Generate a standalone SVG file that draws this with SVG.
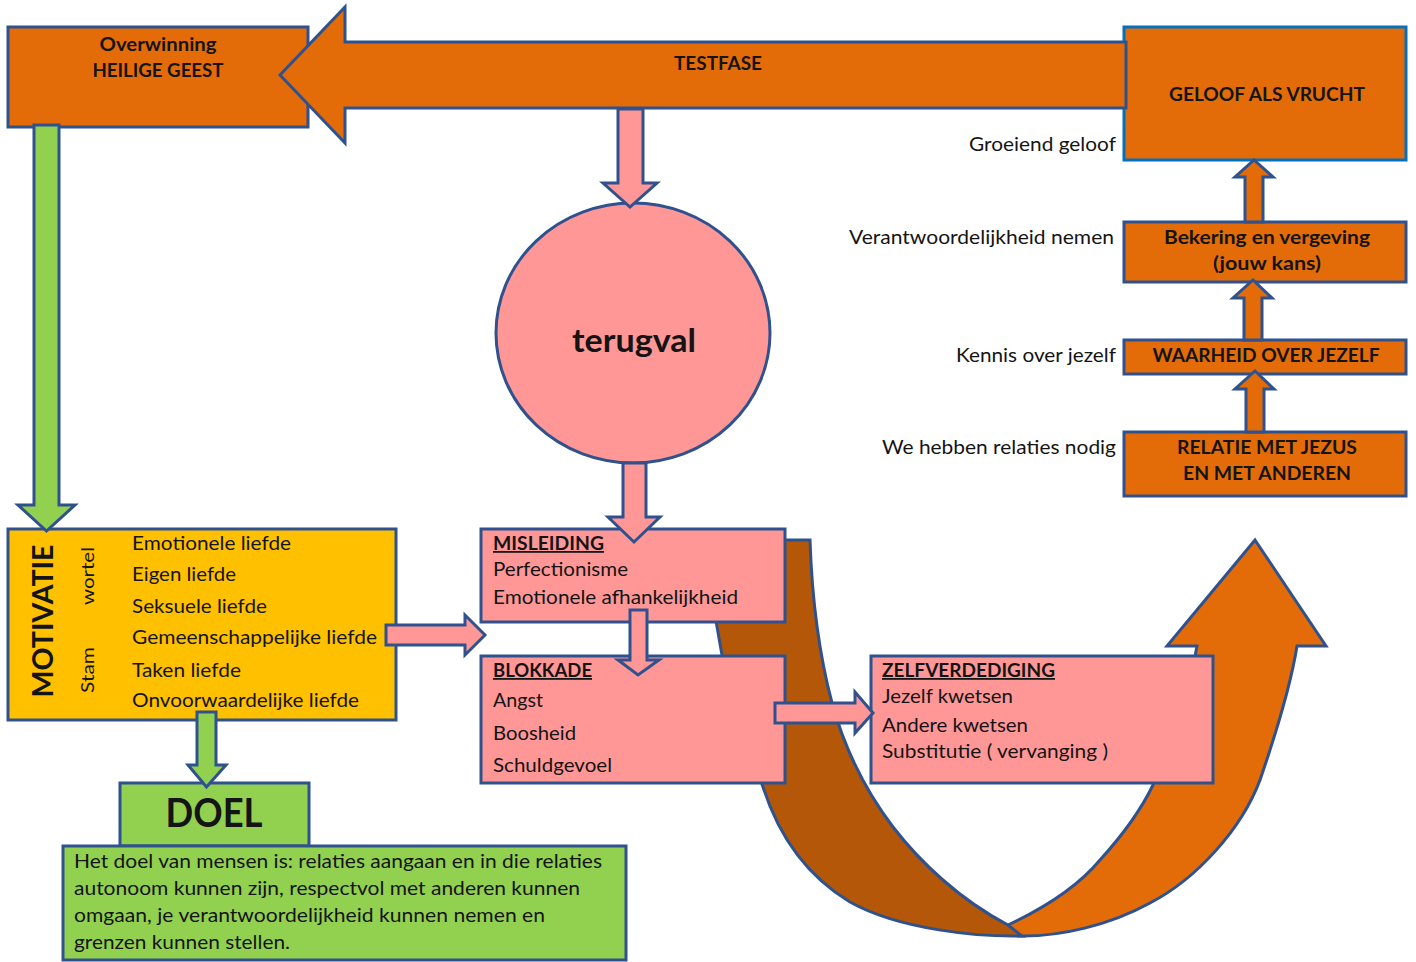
<svg xmlns="http://www.w3.org/2000/svg" width="1416" height="962" viewBox="0 0 1416 962">
<style>
.bx{stroke:#2F528F;stroke-width:3;stroke-linejoin:miter}
.or{fill:#E36C09}
.pk{fill:#FF9797}
.yl{fill:#FFC000}
.gr{fill:#92D050}
.br{fill:#B45708}
.t{font-family:Lato,"Liberation Sans",sans-serif;fill:#141414;font-size:19px}
.b{font-weight:bold}
.h{font-weight:bold;font-size:18px}
.m{text-anchor:middle}
.e{text-anchor:end}
.u{text-decoration:underline}
</style>
<rect width="1416" height="962" fill="#ffffff"/>

<g id="curved-arrow">
<path class="or bx" d="M1255,540 L1326,646 L1297,646 C1290,690 1272,745 1260,780 C1242,828 1198,878 1150,903 C1110,925 1060,937 1018,936 L1008,925 C1040,910 1075,890 1100,860 C1120,838 1140,812 1153,785 C1170,745 1188,700 1197,646 L1167,646 Z"/>
<path class="br bx" d="M706,540 L810,540 C812,600 818,650 832,703 C845,750 865,790 893,827 C920,862 960,900 1008,925 L1022,936 C980,937 900,930 850,902 C810,878 780,840 763,787 C745,740 728,690 722,655 C715,615 708,580 706,540 Z"/>
</g>

<g id="n-overwinning">
<rect class="or bx" x="8" y="27" width="300" height="100"/>
<text class="t h m" x="158" y="51" textLength="117" lengthAdjust="spacingAndGlyphs">Overwinning</text>
<text class="t h m" x="158" y="77" textLength="131" lengthAdjust="spacingAndGlyphs">HEILIGE GEEST</text>
</g>

<g id="n-geloof">
<rect class="or" x="1124" y="27" width="282" height="133" stroke="#0070C0" stroke-width="3"/>
<text class="t h m" x="1267" y="101" textLength="196" lengthAdjust="spacingAndGlyphs">GELOOF ALS VRUCHT</text>
</g>

<g id="n-testfase">
<polygon class="or bx" points="280,75 345,7 345,42 1126,42 1126,108 345,108 345,143"/>
<text class="t h m" x="718" y="70" textLength="88" lengthAdjust="spacingAndGlyphs">TESTFASE</text>
</g>

<g id="n-bekering">
<rect class="or bx" x="1124" y="222" width="282" height="60"/>
<text class="t h m" x="1267" y="244" textLength="206" lengthAdjust="spacingAndGlyphs">Bekering en vergeving</text>
<text class="t h m" x="1267" y="270" textLength="108" lengthAdjust="spacingAndGlyphs">(jouw kans)</text>
</g>

<g id="n-waarheid">
<rect class="or bx" x="1124" y="340" width="282" height="34"/>
<text class="t h m" x="1266" y="362" textLength="227" lengthAdjust="spacingAndGlyphs">WAARHEID OVER JEZELF</text>
</g>

<g id="n-relatie">
<rect class="or bx" x="1124" y="432" width="282" height="64"/>
<text class="t h m" x="1267" y="454" textLength="180" lengthAdjust="spacingAndGlyphs">RELATIE MET JEZUS</text>
<text class="t h m" x="1267" y="480" textLength="168" lengthAdjust="spacingAndGlyphs">EN MET ANDEREN</text>
</g>

<g id="side-labels">
<text class="t e" x="1116" y="151" textLength="147" lengthAdjust="spacingAndGlyphs">Groeiend geloof</text>
<text class="t e" x="1114" y="244" textLength="265" lengthAdjust="spacingAndGlyphs">Verantwoordelijkheid nemen</text>
<text class="t e" x="1116" y="362" textLength="160" lengthAdjust="spacingAndGlyphs">Kennis over jezelf</text>
<text class="t e" x="1116" y="454" textLength="234" lengthAdjust="spacingAndGlyphs">We hebben relaties nodig</text>
</g>

<g id="n-terugval">
<ellipse class="pk bx" cx="633" cy="333" rx="137" ry="130"/>
<text class="t b m" x="634" y="352" style="font-size:33px" textLength="124" lengthAdjust="spacingAndGlyphs">terugval</text>
</g>

<g id="n-misleiding">
<rect class="pk bx" x="481" y="529" width="304" height="93"/>
<text class="t b u" x="493" y="550" style="font-size:18px" textLength="111" lengthAdjust="spacingAndGlyphs">MISLEIDING</text>
<text class="t" x="493" y="576" textLength="135" lengthAdjust="spacingAndGlyphs">Perfectionisme</text>
<text class="t" x="493" y="604" textLength="245" lengthAdjust="spacingAndGlyphs">Emotionele afhankelijkheid</text>
</g>

<g id="n-blokkade">
<rect class="pk bx" x="481" y="656" width="304" height="127"/>
<text class="t b u" x="493" y="677" style="font-size:18px" textLength="99" lengthAdjust="spacingAndGlyphs">BLOKKADE</text>
<text class="t" x="493" y="707" textLength="50" lengthAdjust="spacingAndGlyphs">Angst</text>
<text class="t" x="493" y="740" textLength="83" lengthAdjust="spacingAndGlyphs">Boosheid</text>
<text class="t" x="493" y="772" textLength="119" lengthAdjust="spacingAndGlyphs">Schuldgevoel</text>
</g>

<g id="n-zelfverdediging">
<rect class="pk bx" x="871" y="656" width="342" height="127"/>
<text class="t b u" x="882" y="677" style="font-size:18px" textLength="173" lengthAdjust="spacingAndGlyphs">ZELFVERDEDIGING</text>
<text class="t" x="882" y="703" textLength="131" lengthAdjust="spacingAndGlyphs">Jezelf kwetsen</text>
<text class="t" x="882" y="732" textLength="146" lengthAdjust="spacingAndGlyphs">Andere kwetsen</text>
<text class="t" x="882" y="758" textLength="226" lengthAdjust="spacingAndGlyphs">Substitutie ( vervanging )</text>
</g>

<g id="n-motivatie">
<rect class="yl bx" x="8" y="529" width="388" height="191"/>
<text class="t b m" transform="translate(53,621) rotate(-90)" style="font-size:29px" textLength="153" lengthAdjust="spacingAndGlyphs">MOTIVATIE</text>
<text class="t m" transform="translate(94,576) rotate(-90)" style="font-size:18px" textLength="58" lengthAdjust="spacingAndGlyphs">wortel</text>
<text class="t m" transform="translate(94,670) rotate(-90)" style="font-size:18px" textLength="46" lengthAdjust="spacingAndGlyphs">Stam</text>
<text class="t" x="132" y="550" textLength="159" lengthAdjust="spacingAndGlyphs">Emotionele liefde</text>
<text class="t" x="132" y="581" textLength="104" lengthAdjust="spacingAndGlyphs">Eigen liefde</text>
<text class="t" x="132" y="613" textLength="135" lengthAdjust="spacingAndGlyphs">Seksuele liefde</text>
<text class="t" x="132" y="644" textLength="245" lengthAdjust="spacingAndGlyphs">Gemeenschappelijke liefde</text>
<text class="t" x="132" y="677" textLength="109" lengthAdjust="spacingAndGlyphs">Taken liefde</text>
<text class="t" x="132" y="707" textLength="227" lengthAdjust="spacingAndGlyphs">Onvoorwaardelijke liefde</text>
</g>

<g id="n-doel">
<rect class="gr bx" x="120" y="783" width="189" height="63"/>
<text class="t b m" x="214" y="827" style="font-size:40px" textLength="97" lengthAdjust="spacingAndGlyphs">DOEL</text>
</g>

<g id="n-doel-tekst">
<rect class="gr bx" x="63" y="846" width="563" height="114"/>
<text class="t" x="74" y="868" textLength="528" lengthAdjust="spacingAndGlyphs">Het doel van mensen is: relaties aangaan en in die relaties</text>
<text class="t" x="74" y="895" textLength="506" lengthAdjust="spacingAndGlyphs">autonoom kunnen zijn, respectvol met anderen kunnen</text>
<text class="t" x="74" y="922" textLength="471" lengthAdjust="spacingAndGlyphs">omgaan, je verantwoordelijkheid kunnen nemen en</text>
<text class="t" x="74" y="949" textLength="216" lengthAdjust="spacingAndGlyphs">grenzen kunnen stellen.</text>
</g>

<g id="connectors">
<polygon class="pk bx" points="618,109 643,109 643,183 657,183 630,207 603,183 618,183"/>
<polygon class="pk bx" points="623,463 646,463 646,517 660,517 634,542 608,517 623,517"/>
<polygon class="pk bx" points="630,610 647,610 647,660 659,660 638,675 618,660 630,660"/>
<polygon class="pk bx" points="386,625 465,625 465,615 485,635 465,655 465,645 386,645"/>
<polygon class="pk bx" points="775,703 855,703 855,692 873,713 855,733 855,723 775,723"/>
<polygon class="gr bx" points="34,125 59,125 59,505 75,505 46.5,531 18,505 34,505"/>
<polygon class="gr bx" points="197,712 216,712 216,765 226,765 206.5,787 188,765 197,765"/>
<polygon class="or bx" points="1245,222 1263,222 1263,177 1273,177 1254,160 1235,177 1245,177"/>
<polygon class="or bx" points="1244,340 1262,340 1262,298 1272,298 1253,280 1233,298 1244,298"/>
<polygon class="or bx" points="1246,432 1264,432 1264,389 1274,389 1255,371 1235,389 1246,389"/>
</g>
</svg>
